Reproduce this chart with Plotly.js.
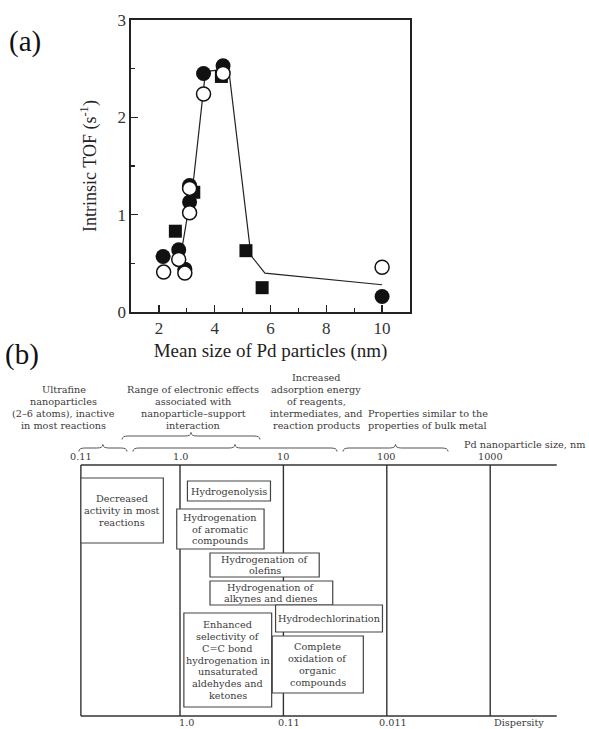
<!DOCTYPE html>
<html>
<head>
<meta charset="utf-8">
<script src="https://cdn.plot.ly/plotly-3.0.1.min.js"></script>
<style>
  html, body { margin: 0; padding: 0; background: #fff; }
  #chart { width: 589px; height: 729px; }
</style>
</head>
<body>
<div id="chart"></div>
<script>
// ---------- (a) Intrinsic TOF against mean Pd particle size ----------
const filledSize = [2.15, 2.71, 2.93, 3.1, 3.1, 3.6, 4.3, 10];
const filledTOF  = [0.57, 0.64, 0.44, 1.13, 1.30, 2.45, 2.53, 0.16];
const openSize   = [2.17, 2.71, 2.93, 3.1, 3.1, 3.6, 4.3, 10];
const openTOF    = [0.41, 0.54, 0.40, 1.02, 1.27, 2.24, 2.45, 0.46];
const squareSize = [2.59, 3.25, 4.24, 5.12, 5.7];
const squareTOF  = [0.83, 1.23, 2.42, 0.63, 0.25];
const trendSize  = [2.75, 3.25, 3.67, 4.5, 5.3, 5.8, 10];
const trendTOF   = [0.52, 1.38, 2.47, 2.5, 0.58, 0.40, 0.28];
const sizeTicks  = [2, 4, 6, 8, 10];
const tofTicks   = [0, 1, 2, 3];

// ---------- (b) Size scale of Pd nanoparticles ----------
const scaleSizes       = [0.11, 1, 10, 100, 1000];          // nm
const scaleLabels      = ['0.11', '1.0', '10', '100', '1000'];
const dispersitySizes  = [1, 10, 100, 1000];                 // nm
const dispersityLabels = ['1.0', '0.11', '0.011', 'Dispersity'];
const scaleEnd         = 4400;                               // nm, right end of the scale lines
const scaleCaption     = 'Pd nanoparticle size, nm';

// headers above the scale: text and centre size (nm)
const headerTexts = [
  'Ultrafine\nnanoparticles\n(2–6 atoms), inactive\nin most reactions',
  'Range of electronic effects\nassociated with\nnanoparticle–support\ninteraction',
  'Increased\nadsorption energy\nof reagents,\nintermediates, and\nreaction products',
  'Properties similar to the\nproperties of bulk metal'
];
const headerCentres = [0.0755, 1.34, 20.7, 250];

// braces: size span (nm)
const braceFrom = [0.275, 0.105, 0.351, 37.7];
const braceTo   = [5.94, 0.307, 33, 391];

// reaction boxes: label and size span (nm)
const boxLabels = [
  'Decreased\nactivity in most\nreactions',
  'Hydrogenolysis',
  'Hydrogenation\nof aromatic\ncompounds',
  'Hydrogenation of\nolefins',
  'Hydrogenation of\nalkynes and dienes',
  'Hydrodechlorination',
  'Enhanced\nselectivity of\nC=C bond\nhydrogenation in\nunsaturated\naldehydes and\nketones',
  'Complete\noxidation of\norganic\ncompounds'
];
const boxFrom = [0.11, 1.18, 0.93, 1.95, 1.95, 8.4, 1.09, 7.8];
const boxTo   = [0.69, 7.5, 6.5, 22.2, 30, 90.8, 7.7, 59.3];

// ---------- layout helpers ----------
const W = 589, H = 729;
const lg = v => Math.log10(v);
// panel (b): hidden linear axis in log10(nm); vertical axis in row units
const rowTop = [478, 481, 509, 553, 581, 605, 613, 636];
const rowBot = [543, 501, 549, 577, 605, 632, 707, 693];
const scaleTopY = 465, scaleBotY = 716;
const serifB = 'DejaVu Serif, serif';
const inkB = '#3a3a3a';
const fontB = {family: serifB, size: 9.7, color: inkB};
const LINE = 11.7;

const shapes = [];
const annotations = [];

// scale frame: top and bottom lines, vertical size lines
shapes.push({type: 'line', xref: 'x2', yref: 'y2', x0: lg(scaleSizes[0]), x1: lg(scaleEnd),
             y0: scaleTopY, y1: scaleTopY, line: {color: '#333', width: 1.4}});
shapes.push({type: 'line', xref: 'x2', yref: 'y2', x0: lg(scaleSizes[0]), x1: lg(scaleEnd),
             y0: scaleBotY, y1: scaleBotY, line: {color: '#333', width: 1.4}});
scaleSizes.forEach((s, i) => {
  shapes.push({type: 'line', xref: 'x2', yref: 'y2', x0: lg(s), x1: lg(s),
               y0: scaleTopY, y1: scaleBotY, line: {color: '#333', width: 1.4}});
  annotations.push({xref: 'x2', yref: 'y2', x: lg(s), y: 456, text: scaleLabels[i],
                    showarrow: false, xanchor: 'center', yanchor: 'middle', font: fontB});
});
dispersitySizes.forEach((s, i) => {
  const last = i === dispersitySizes.length - 1;
  annotations.push({xref: 'x2', yref: 'y2', x: lg(s), y: 722, text: dispersityLabels[i],
                    showarrow: false, xanchor: last ? 'left' : 'center', xshift: last ? 2 : 6,
                    yanchor: 'middle', font: fontB});
});
// caption of the size scale, kept inside the right edge
annotations.push({xref: 'paper', yref: 'y2', x: 587 / W, y: 444, text: scaleCaption,
                  showarrow: false, xanchor: 'right', yanchor: 'middle', font: fontB});

// headers, bottom row aligned
headerTexts.forEach((t, i) => {
  const lines = t.split('\n');
  lines.forEach((ln, k) => {
    annotations.push({xref: 'x2', yref: 'y2', x: lg(headerCentres[i]),
                      y: 425 - (lines.length - 1 - k) * 12, text: ln,
                      showarrow: false, xanchor: 'center', yanchor: 'middle', font: fontB});
  });
});

// braces (tip up), drawn as paths in axis units
const braceRow = [436, 448, 448, 448];
const d = 6 / 103.4;
braceFrom.forEach((f, i) => {
  const a = lg(f), b = lg(braceTo[i]), m = (a + b) / 2, y = braceRow[i];
  const p = `M${a},${y + 3.5} Q${a},${y} ${a + d},${y} L${m - d},${y} Q${m},${y} ${m},${y - 3.5} ` +
            `Q${m},${y} ${m + d},${y} L${b - d},${y} Q${b},${y} ${b},${y + 3.5}`;
  shapes.push({type: 'path', xref: 'x2', yref: 'y2', path: p, line: {color: '#555', width: 1}});
});

// reaction boxes with centred text
boxLabels.forEach((t, i) => {
  shapes.push({type: 'rect', xref: 'x2', yref: 'y2', x0: lg(boxFrom[i]), x1: lg(boxTo[i]),
               y0: rowTop[i], y1: rowBot[i], fillcolor: '#fff', line: {color: '#444', width: 1.2}});
  const lines = t.split('\n');
  const xc = (lg(boxFrom[i]) + lg(boxTo[i])) / 2;
  const yc = (rowTop[i] + rowBot[i]) / 2;
  lines.forEach((ln, k) => {
    annotations.push({xref: 'x2', yref: 'y2', x: xc, y: yc + (k - (lines.length - 1) / 2) * LINE,
                      text: ln, showarrow: false, xanchor: 'center', yanchor: 'middle', font: fontB});
  });
});

// panel letters
const serifA = 'Liberation Serif, Times New Roman, serif';
annotations.push({xref: 'paper', yref: 'paper', x: 25 / W, y: 1 - 42 / H, text: '(a)', showarrow: false,
                  xanchor: 'center', yanchor: 'middle', font: {family: serifA, size: 29, color: '#111'}});
annotations.push({xref: 'paper', yref: 'paper', x: 22 / W, y: 1 - 354 / H, text: '(b)', showarrow: false,
                  xanchor: 'center', yanchor: 'middle', font: {family: serifA, size: 29, color: '#111'}});

// ---------- traces for (a) ----------
const traces = [
  {x: trendSize, y: trendTOF, mode: 'lines', line: {color: '#222', width: 1.2}, hoverinfo: 'skip'},
  {x: squareSize, y: squareTOF, mode: 'markers',
   marker: {symbol: 'square', size: 13, color: '#111', line: {width: 0}}},
  {x: filledSize, y: filledTOF, mode: 'markers',
   marker: {symbol: 'circle', size: 15, color: '#111', line: {width: 0}}},
  {x: openSize, y: openTOF, mode: 'markers',
   marker: {symbol: 'circle', size: 14, color: '#fff', line: {color: '#111', width: 1.5}}},
  // invisible point keeping the (b) axes in place
  {x: [lg(scaleSizes[0])], y: [scaleTopY], xaxis: 'x2', yaxis: 'y2', mode: 'markers',
   marker: {opacity: 0}, hoverinfo: 'skip'}
];

const axisFont = {family: serifA, size: 17, color: '#333'};
const layout = {
  width: W, height: H,
  margin: {l: 0, r: 0, t: 0, b: 0},
  paper_bgcolor: '#fff', plot_bgcolor: 'rgba(0,0,0,0)',
  showlegend: false,
  xaxis: {
    domain: [131 / W, 410 / W], range: [1, 11], anchor: 'y',
    tickvals: sizeTicks, ticks: 'inside', ticklen: 7, tickwidth: 1.5, tickcolor: '#222',
    minor: {dtick: 1, tick0: 0, ticks: 'inside', ticklen: 4, tickwidth: 1.2, tickcolor: '#222'},
    showline: true, linecolor: '#222', linewidth: 1.6, mirror: true,
    showgrid: false, zeroline: false, tickfont: axisFont,
    title: {text: 'Mean size of Pd particles (nm)', font: {family: serifA, size: 19, color: '#222'}, standoff: 6}
  },
  yaxis: {
    domain: [1 - 312 / H, 1 - 20 / H], range: [0, 3], anchor: 'x',
    tickvals: tofTicks, ticks: 'inside', ticklen: 7, tickwidth: 1.5, tickcolor: '#222',
    minor: {dtick: 0.5, tick0: 0, ticks: 'inside', ticklen: 4, tickwidth: 1.2, tickcolor: '#222'},
    showline: true, linecolor: '#222', linewidth: 1.6, mirror: true,
    showgrid: false, zeroline: false, tickfont: axisFont,
    title: {text: 'Intrinsic TOF (s<sup>-1</sup>)', font: {family: serifA, size: 18, color: '#222'}, standoff: 16}
  },
  xaxis2: {domain: [0, 1], range: [-1.7408, 3.9555], anchor: 'y2', visible: false, fixedrange: true},
  yaxis2: {domain: [0, (H - 370) / H], range: [H, 370], anchor: 'x2', visible: false, fixedrange: true},
  shapes: shapes,
  annotations: annotations
};

Plotly.newPlot('chart', traces, layout, {displayModeBar: false, staticPlot: true});
</script>
</body>
</html>
